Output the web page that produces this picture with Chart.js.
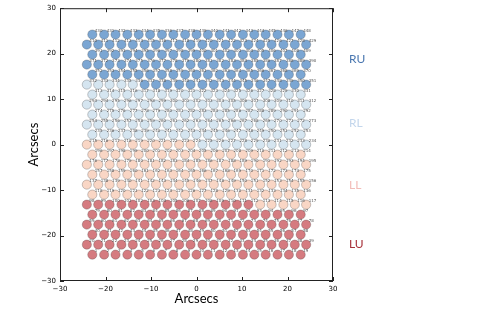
<!DOCTYPE html>
<html>
<head>
<meta charset="utf-8">
<script src="https://cdn.jsdelivr.net/npm/chart.js@4.4.1/dist/chart.umd.min.js"></script>
<style>
  html, body { margin: 0; padding: 0; background: #fff; }
  #wrap { width: 483px; height: 315px; }
</style>
</head>
<body>
<div id="wrap"><canvas id="chart"></canvas></div>
<script>
// fibre rows, bottom to top (arcsec)
const rowY = [-24.2, -22.0, -19.8, -17.6, -15.4, -13.2, -11.0, -8.8, -6.6, -4.4, -2.2, 0,
  2.2, 4.4, 6.6, 8.8, 11.0, 13.2, 15.4, 17.6, 19.8, 22.0, 24.2]
// 's' rows hold 19 fibres, 'l' rows hold 20
const rowType = ['s', 'l', 's', 'l', 's', 'l', 's', 'l', 's', 'l', 's', 'l',
  's', 'l', 's', 'l', 's', 'l', 's', 'l', 's', 'l', 's']
const xShort = [-22.9, -20.3, -17.8, -15.2, -12.7, -10.2, -7.6, -5.1, -2.5, 0,
  2.5, 5.1, 7.6, 10.2, 12.7, 15.2, 17.8, 20.3, 22.9]
const xLong = [-24.1, -21.6, -19.1, -16.5, -14.0, -11.4, -8.9, -6.4, -3.8, -1.3,
  1.3, 3.8, 6.4, 8.9, 11.4, 14.0, 16.5, 19.1, 21.6, 24.1]

const groupNames = ['LU', 'LL', 'RL', 'RU']
const groupFirstFibre = [1, 113, 225, 337]
const groupLabelY = [-21.8, -9.0, 4.8, 18.7]
const axisTicks = [-30, -20, -10, 0, 10, 20, 30]

const fillColors = ['#d57b80', '#f9d6c5', '#d5e5f0', '#7ba6d3']
const textColors = ['#a8323a', '#f2bcb8', '#c3d6ec', '#4a77b0']

// number the fibres bottom-up, left to right
const groups = groupNames.map(() => [])
let fibre = 0
rowY.forEach((y, r) => {
  const xs = rowType[r] === 'l' ? xLong : xShort
  xs.forEach(x => {
    fibre++
    let g = 0
    groupFirstFibre.forEach((first, i) => { if (fibre >= first) g = i })
    groups[g].push({ x: x, y: y, n: fibre })
  })
})

const fibreLabels = {
  id: 'fibreLabels',
  afterDatasetsDraw(chart) {
    const ctx = chart.ctx
    ctx.save()
    ctx.font = '4px "DejaVu Sans"'
    ctx.fillStyle = '#555'
    ctx.textAlign = 'left'
    ctx.textBaseline = 'alphabetic'
    chart.data.datasets.forEach((ds, i) => {
      chart.getDatasetMeta(i).data.forEach((pt, j) => {
        ctx.fillText(String(ds.data[j].n), pt.x + 2.5, pt.y - 3)
      })
    })
    ctx.restore()
  }
}

const frame = {
  id: 'frame',
  afterDraw(chart) {
    const ctx = chart.ctx
    const a = chart.chartArea
    const xs = chart.scales.x
    const ys = chart.scales.y
    ctx.save()
    ctx.strokeStyle = '#222'
    ctx.lineWidth = 1
    ctx.strokeRect(a.left + 0.5, a.top + 0.5, a.right - a.left - 1, a.bottom - a.top - 1)
    ctx.beginPath()
    axisTicks.forEach(t => {
      const px = Math.round(xs.getPixelForValue(t)) + 0.5
      ctx.moveTo(px, a.bottom); ctx.lineTo(px, a.bottom - 4)
      ctx.moveTo(px, a.top); ctx.lineTo(px, a.top + 4)
      const py = Math.round(ys.getPixelForValue(t)) + 0.5
      ctx.moveTo(a.left, py); ctx.lineTo(a.left + 4, py)
      ctx.moveTo(a.right, py); ctx.lineTo(a.right - 4, py)
    })
    ctx.stroke()

    // axis titles
    ctx.fillStyle = '#000'
    ctx.font = '13px Lato'
    ctx.textAlign = 'center'
    ctx.textBaseline = 'middle'
    ctx.fillText('Arcsecs', (a.left + a.right) / 2, 299)
    ctx.save()
    ctx.translate(34, (a.top + a.bottom) / 2)
    ctx.rotate(-Math.PI / 2)
    ctx.fillText('Arcsecs', 0, 0)
    ctx.restore()

    // bundle names
    ctx.font = '12px Lato'
    ctx.textAlign = 'left'
    groupNames.forEach((name, i) => {
      ctx.fillStyle = textColors[i]
      ctx.fillText(name, a.right + 16, ys.getPixelForValue(groupLabelY[i]))
    })
    ctx.restore()
  }
}

const minus = v => String(v).replace('-', '\u2212')

new Chart(document.getElementById('chart').getContext('2d'), {
  type: 'scatter',
  data: {
    datasets: groups.map((pts, i) => ({
      label: groupNames[i],
      data: pts,
      backgroundColor: fillColors[i],
      borderColor: 'rgba(60,60,60,0.35)',
      borderWidth: 0.8,
      pointRadius: 4.6,
      pointHoverRadius: 4.6
    }))
  },
  options: {
    responsive: true,
    maintainAspectRatio: false,
    animation: false,
    layout: { padding: { top: 8, right: 150, left: 0, bottom: 0 } },
    plugins: { legend: { display: false }, tooltip: { enabled: false } },
    scales: {
      x: {
        type: 'linear',
        min: -30, max: 30,
        afterFit: s => { s.height = 34 },
        afterBuildTicks: s => { s.ticks = axisTicks.map(v => ({ value: v })) },
        grid: { display: false, drawTicks: false },
        border: { display: false },
        ticks: { font: { family: 'DejaVu Sans', size: 7 }, color: '#000', padding: 4, callback: minus, maxRotation: 0 }
      },
      y: {
        type: 'linear',
        min: -30, max: 30,
        afterFit: s => { s.width = 60 },
        afterBuildTicks: s => { s.ticks = axisTicks.map(v => ({ value: v })) },
        grid: { display: false, drawTicks: false },
        border: { display: false },
        ticks: { font: { family: 'DejaVu Sans', size: 7 }, color: '#000', padding: 4, callback: minus }
      }
    }
  },
  plugins: [fibreLabels, frame]
})
</script>
</body>
</html>
